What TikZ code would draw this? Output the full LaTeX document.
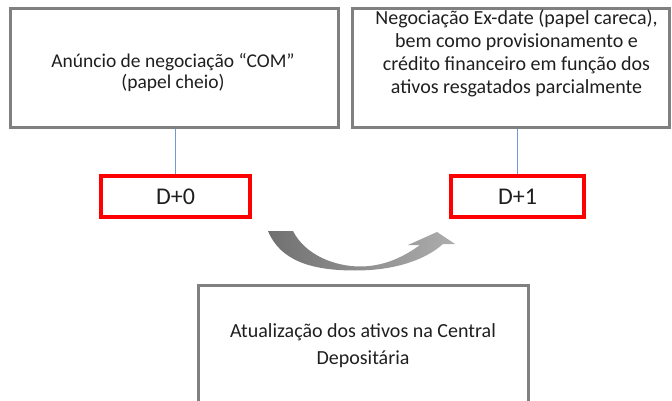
\documentclass[tikz,border=0pt]{standalone}
\usepackage{fontspec}
\setmainfont{Carlito}
\definecolor{boxgray}{HTML}{808080}
\definecolor{txt}{HTML}{1F1F1F}
\definecolor{linkblue}{HTML}{7397D6}
\begin{document}
\begin{tikzpicture}[x=1pt,y=-1pt,
  graybox/.style={draw=boxgray,line width=3pt,minimum width=#1,inner sep=0pt},
  redbox/.style={draw=red,line width=4pt,minimum height=41pt,inner sep=0pt,font=\fontsize{24}{26}\selectfont,text=txt},
  label/.style={align=center,text=txt,inner sep=0pt},
  link/.style={draw=linkblue,line width=1.1pt}]
\useasboundingbox (0,0) rectangle (672,401);
\clip (0,0) rectangle (672,401);
\node[graybox=328pt,minimum height=119pt] (box1) at (174,68.5) {};
\node[graybox=317pt,minimum height=119pt] (box2) at (510.5,68.5) {};
\node[graybox=330pt,minimum height=140pt] (box3) at (363,355) {};
\node[label,font=\fontsize{19.5}{21}\selectfont] (t1) at (173,72.5) {Anúncio de negociação “COM”\\(papel cheio)};
\node[label,font=\fontsize{20}{23}\selectfont] (t2) at (516.5,53.5) {Negociação Ex-date (papel careca),\\bem como provisionamento e\\crédito financeiro em função dos\\ativos resgatados parcialmente};
\node[label,font=\fontsize{20}{27}\selectfont] (t3) at (363,346) {Atualização dos ativos na Central\\Depositária};
\node[redbox,minimum width=149pt] (d0) at (175.5,196.5) {D+0};
\node[redbox,minimum width=133pt] (d1) at (517.5,196.5) {D+1};
\draw[link] (d0.north) -- (d0.north |- box1.south);
\draw[link] (d1.north) -- (d1.north |- box2.south);
\shade[left color=black!56,right color=black!32]
  (268,231) -- (293,231) .. controls (305,255) and (335,266.5) .. (360,266.5)
  .. controls (385,266.5) and (405,256) .. (420,245) -- (408,245) -- (437,232)
  -- (455,244) -- (443,244) .. controls (425,260) and (395,270.5) .. (355,270.5)
  .. controls (310,270.5) and (280,260) .. (268,231) -- cycle;
\end{tikzpicture}
\end{document}
